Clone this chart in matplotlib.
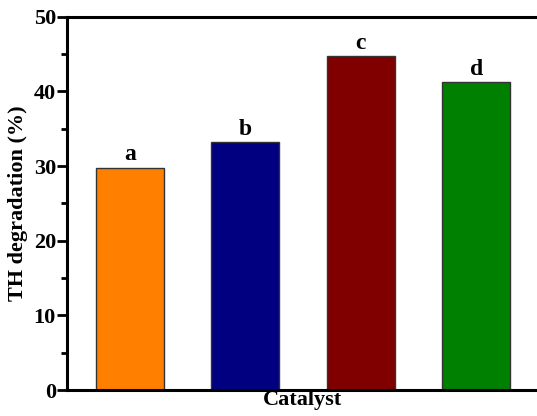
import matplotlib
matplotlib.use('Agg')
from matplotlib import pyplot as plt
from matplotlib.ticker import MultipleLocator

# Data.
catalysts=['a','b','c','d']
degradation=[29.8,33.2,44.7,41.3]
bar_colors=['#FF8000','#000080','#800000','#008000']

plt.rcParams['font.family']=['Liberation Serif','DejaVu Serif']
plt.rcParams['font.weight']='bold'

fig=plt.figure(figsize=(5.37,4.16),dpi=100)
ax=fig.add_axes([0.1248,0.0625,0.8752,0.897])

xpos=list(range(1,len(catalysts)+1))
bars=ax.bar(xpos,degradation,width=0.59,color=bar_colors,
            edgecolor='#333333',linewidth=1)
# Letter labels above bars.
for x,v,lab in zip(xpos,degradation,catalysts):
  ax.text(x,v+0.3,lab,ha='center',va='bottom',fontsize=17,fontweight='bold')

ax.set_xlim(0.455,4.525)
ax.set_ylim(0,50)
ax.set_xticks([])
ax.yaxis.set_major_locator(MultipleLocator(10))
ax.yaxis.set_minor_locator(MultipleLocator(5))
ax.tick_params(axis='y',which='major',direction='out',length=7,width=2,
               labelsize=16,pad=1)
ax.tick_params(axis='y',which='minor',direction='out',length=4,width=2)
for s in ['left','bottom','top']:
  ax.spines[s].set_linewidth(2.2)
ax.spines['right'].set_visible(False)
for lbl in ax.get_yticklabels():
  lbl.set_fontweight('bold')

ax.set_ylabel('TH degradation (%)',fontsize=16,fontweight='bold',labelpad=4)
ax.set_xlabel('Catalyst',fontsize=16,fontweight='bold',labelpad=0)

fig.savefig('out.png',dpi=100)
